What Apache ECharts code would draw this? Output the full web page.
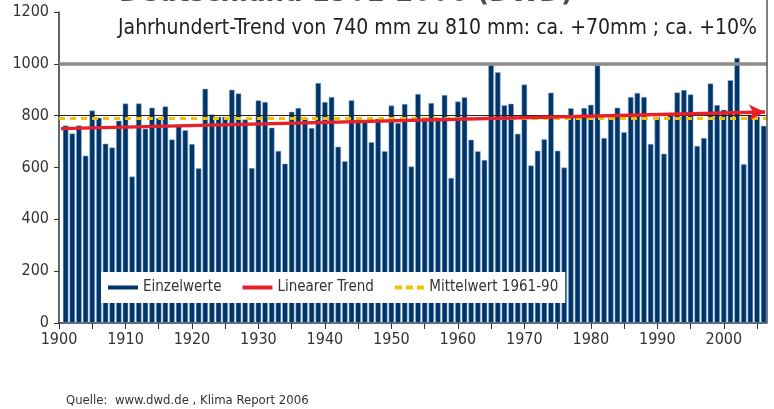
<!DOCTYPE html>
<html><head><meta charset="utf-8">
<script src="https://cdn.jsdelivr.net/npm/echarts@6/dist/echarts.min.js"></script>
<style>html,body{margin:0;padding:0;background:#fff}#c{width:774px;height:409px}</style>
</head><body><div id="c"></div>
<script>
// ---- data ----
const firstYear = 1901;
const precip = [
  762, 731, 762, 646, 820, 792, 692, 677, 781, 847,   // 1901-1910
  565, 847, 750, 831, 791, 836, 708, 762, 744, 691,   // 1911-1920
  597, 904, 805, 796, 796, 900, 886, 785, 598, 859,   // 1921-1930
  853, 754, 664, 615, 815, 830, 792, 753, 926, 853,   // 1931-1940
  872, 680, 624, 860, 785, 783, 698, 788, 663, 839,   // 1941-1950
  772, 845, 604, 884, 791, 849, 792, 880, 560, 855,   // 1951-1960
  871, 707, 663, 629, 996, 968, 840, 846, 730, 920,   // 1961-1970
  608, 665, 709, 889, 665, 600, 829, 796, 830, 842,   // 1971-1980
  996, 714, 792, 831, 736, 872, 888, 872, 691, 796,   // 1981-1990
  653, 806, 890, 899, 882, 683, 714, 924, 841, 823,   // 1991-2000
  937, 1023, 613, 804, 797, 761                        // 2001-2006
];
const years = precip.map((_, i) => firstYear + i);
const trendYears = [1900.3, 2006.2];
const trendValues = [750, 814];
const meanValue = 790;
const refLine1000 = 1000;
const refLine800 = 800;
const yMin = 0, yMax = 1200, yStep = 200;
const xMin = 1900, xMax = 2006.5, xTickStep = 5, xLabelStep = 10;
const titleText = 'Deutschland 1901-2006 (DWD)';
const subtitleText = 'Jahrhundert-Trend von 740 mm zu 810 mm: ca. +70mm ; ca. +10%';
const sourceText = 'Quelle:  www.dwd.de , Klima Report 2006';
const legendNames = ['Einzelwerte', 'Linearer Trend', 'Mittelwert 1961-90'];

// ---- chart ----
const F = "'Liberation Sans Narrow','DejaVu Sans Condensed','Roboto Condensed',sans-serif";
const NAVY = '#00356a', RED = '#e8202a', YEL = '#f5c200';
const chart = echarts.init(document.getElementById('c'));
chart.setOption({
  animation: false,
  backgroundColor: '#fff',
  grid: { left: 59, right: 7, top: 12, bottom: 86 },
  xAxis: {
    type: 'value', min: xMin, max: xMax, interval: xTickStep,
    axisLine: { show: true, lineStyle: { color: '#333', width: 1.5 } },
    axisTick: { show: true, length: 6, lineStyle: { color: '#333' } },
    axisLabel: { showMaxLabel: false, margin: 9, fontFamily: F, fontSize: 16, color: '#333',
      formatter: v => (v % xLabelStep === 0 ? String(v) : '') },
    splitLine: { show: false }
  },
  yAxis: {
    type: 'value', min: yMin, max: yMax, interval: yStep,
    axisLine: { show: true, lineStyle: { color: '#333', width: 1.5 } },
    axisTick: { show: true, length: 5, lineStyle: { color: '#333' } },
    axisLabel: { margin: 10, fontFamily: F, fontSize: 16, color: '#333',
      formatter: v => String(v) },
    splitLine: { show: false }
  },
  legend: {
    left: 101, top: 272, padding: [8, 7, 8, 7], itemGap: 21,
    itemWidth: 30, itemHeight: 4,
    backgroundColor: '#fff',
    textStyle: { fontFamily: F, fontSize: 15, color: '#333' },
    data: [
      { name: legendNames[0], icon: 'rect', itemStyle: { color: NAVY, borderWidth: 0 } },
      { name: legendNames[1], icon: 'rect', itemStyle: { color: RED, borderWidth: 0 } },
      { name: legendNames[2], icon: 'path://M0,0h7v4h-7zM11,0h7v4h-7zM22,0h7v4h-7z', itemStyle: { color: YEL, borderWidth: 0 } }
    ]
  },
  series: [
    {
      name: '_ref1000', type: 'line', data: [], z: 1, silent: true,
      markLine: { silent: true, symbol: 'none', label: { show: false },
        lineStyle: { color: '#8c8c8c', width: 3.5, type: 'solid' },
        data: [{ yAxis: refLine1000 }] }
    },
    {
      name: legendNames[0], type: 'bar', z: 3,
      barWidth: 5.6,
      itemStyle: { color: NAVY, borderColor: 'rgba(150,178,212,0.9)', borderWidth: 0.6 },
      data: years.map((y, i) => [y, precip[i]])
    },
    {
      name: '_ref800', type: 'line', data: [], z: 5, silent: true,
      markLine: { silent: true, symbol: 'none', label: { show: false },
        lineStyle: { color: '#222', width: 1, type: 'solid' },
        data: [{ yAxis: refLine800 }] }
    },
    {
      name: legendNames[2], type: 'line', data: [], z: 6,
      itemStyle: { color: YEL }, lineStyle: { color: YEL },
      markLine: { silent: true, symbol: 'none', label: { show: false },
        lineStyle: { color: YEL, width: 3, type: [6, 5] },
        data: [{ yAxis: meanValue }] }
    },
    {
      name: legendNames[1], type: 'line', data: [], z: 7,
      itemStyle: { color: RED }, lineStyle: { color: RED },
      markLine: { silent: true, symbol: ['none', 'arrow'], symbolSize: [12, 16], label: { show: false },
        lineStyle: { color: RED, width: 3.5, type: 'solid' },
        data: [[{ coord: [trendYears[0], trendValues[0]] }, { coord: [trendYears[1], trendValues[1]] }]] }
    }
  ],
  graphic: [
    { type: 'text', left: 119, top: -21, z: 10,
      style: { text: titleText, font: "bold 29px " + F, fill: '#4d4d4d' } },
    { type: 'text', left: 118, top: 18, z: 10,
      style: { text: subtitleText, font: "21px " + F, fill: '#222' } },
    { type: 'text', left: 66, top: 394, z: 10,
      style: { text: sourceText, font: "13px " + F, fill: '#333' } },
    { type: 'line', z: 10, shape: { x1: 767, y1: 0, x2: 767, y2: 323 },
      style: { stroke: '#555', lineWidth: 1.5 } }
  ]
});
</script></body></html>
